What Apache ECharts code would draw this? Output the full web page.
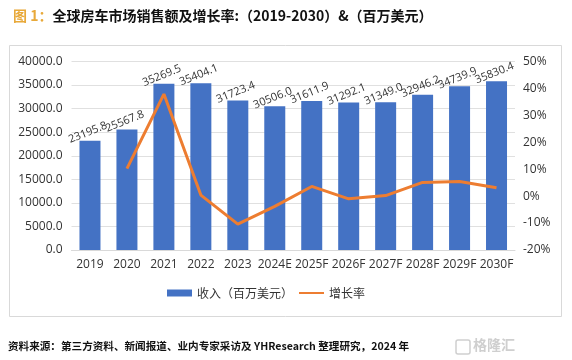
<!DOCTYPE html>
<html><head><meta charset="utf-8">
<script src="https://cdn.jsdelivr.net/npm/echarts@6/dist/echarts.min.js"></script>
<style>html,body{margin:0;padding:0;background:#fff}#c{width:572px;height:360px}</style>
</head><body><div id="c"></div>
<script>
const categories = ['2019','2020','2021','2022','2023','2024E','2025F','2026F','2027F','2028F','2029F','2030F'];
const revenue = [23195.8,25567.8,35269.5,35404.1,31723.4,30506.0,31611.9,31292.1,31349.0,32946.2,34739.9,35830.4];
const growth = [null,10.2,37.9,0.4,-10.4,-3.8,3.6,-1.0,0.2,5.1,5.4,3.1];
const leftTicks = {min:0,max:40000,interval:5000};
const rightTicks = {min:-20,max:50,interval:10};

const chart = echarts.init(document.getElementById('c'), null, {renderer:'canvas'});
const numFont = '"Open Sans", "Liberation Sans", sans-serif';
chart.setOption({
  animation:false,
  backgroundColor:'#fff',
  title:{
    left:8, top:4,
    text:'{a|图 1：}{b|全球房车市场销售额及增长率:（2019-2030）&（百万美元）}',
    textStyle:{rich:{
      a:{color:'#E8A93A',fontSize:14,fontWeight:'bold',fontFamily:'"Noto Sans CJK SC", sans-serif'},
      b:{color:'#111',fontSize:14,fontWeight:'bold',fontFamily:'"Noto Sans CJK SC", sans-serif'}
    }}
  },
  graphic:[
    {type:'rect',shape:{x:9.5,y:45.5,width:552,height:271},style:{fill:'none',stroke:'#d9d9d9',lineWidth:1},z:-1},
    {type:'text',left:8,top:341,style:{text:'资料来源：第三方资料、新闻报道、业内专家采访及 YHResearch 整理研究，2024 年',fill:'#111',font:'bold 10.6px "Noto Sans CJK SC", sans-serif'}},
    {type:'rect',shape:{x:456,y:340,width:14,height:14,r:2},style:{fill:'none',stroke:'#cfcfcf',lineWidth:1.5}},
    {type:'text',left:473,top:338,style:{text:'格隆汇',fill:'#cfcfcf',font:'bold 14px "Noto Sans CJK SC", sans-serif'}}
  ],
  legend:{
    bottom:56, left:162,
    itemGap:5, itemWidth:25, itemHeight:7,
    textStyle:{color:'#333',fontSize:12,fontFamily:'"Noto Sans CJK SC", sans-serif'},
    data:[{name:'收入（百万美元）',icon:'rect'},{name:'增长率',itemStyle:{opacity:0}}]
  },
  grid:{left:71.5,right:57,top:61.5,bottom:110},
  xAxis:{
    type:'category',data:categories,
    axisLine:{lineStyle:{color:'#d9d9d9'}},axisTick:{show:false},
    axisLabel:{color:'#333',fontSize:12,fontFamily:numFont,margin:9,interval:0}
  },
  yAxis:[
    {type:'value',min:leftTicks.min,max:leftTicks.max,interval:leftTicks.interval,
     axisLabel:{color:'#333',fontSize:12,fontFamily:numFont,formatter:v=>v.toFixed(1),margin:9},
     splitLine:{lineStyle:{color:'#e0e0e0'}},axisLine:{show:false}},
    {type:'value',min:rightTicks.min,max:rightTicks.max,interval:rightTicks.interval,
     axisLabel:{color:'#333',fontSize:12,fontFamily:numFont,formatter:v=>v+'%',margin:8},
     splitLine:{show:false},axisLine:{show:false}}
  ],
  series:[
    {name:'收入（百万美元）',type:'bar',data:revenue,barWidth:21,itemStyle:{color:'#4472C4'},
     label:{show:true,position:'top',rotate:22,distance:3,color:'#333',fontSize:11,fontFamily:numFont,formatter:p=>p.value.toFixed(1)}},
    {name:'增长率',type:'line',yAxisIndex:1,data:growth,symbol:'none',lineStyle:{color:'#ED7D31',width:3},itemStyle:{color:'#ED7D31'}}
  ]
});
</script></body></html>
